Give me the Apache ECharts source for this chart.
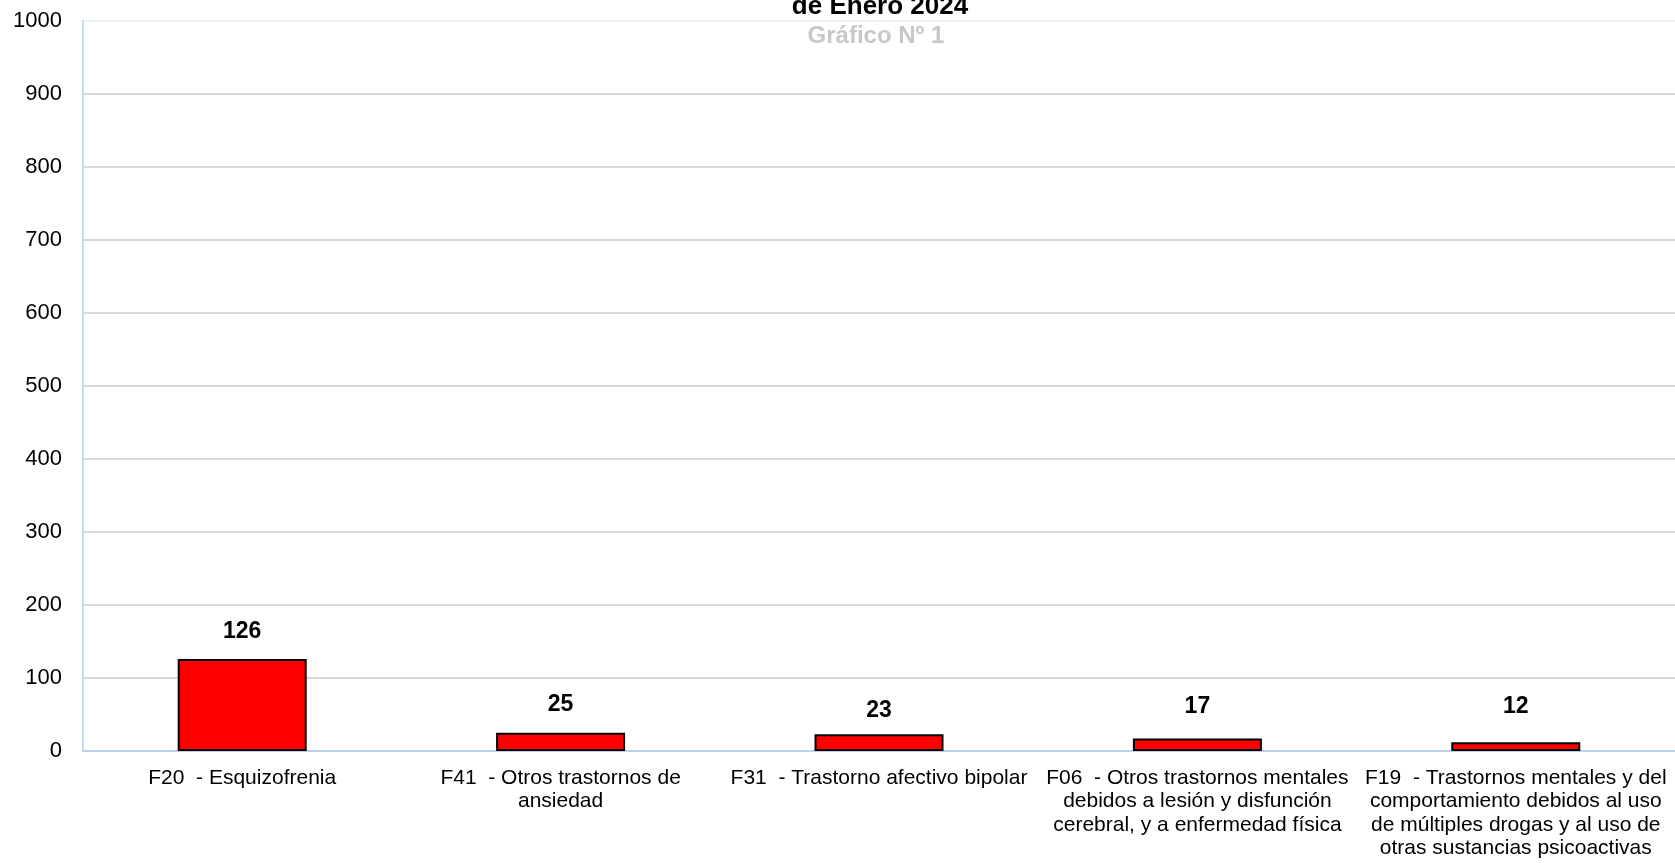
<!DOCTYPE html>
<html>
<head>
<meta charset="utf-8">
<script src="https://cdn.jsdelivr.net/npm/echarts@6/dist/echarts.min.js"></script>
<style>
html,body{margin:0;padding:0;background:#fff;}
#chart{width:1675px;height:863px;}
</style>
</head>
<body>
<div id="chart"></div>
<script>
const categories = [
  "F20  - Esquizofrenia",
  "F41  - Otros trastornos de\nansiedad",
  "F31  - Trastorno afectivo bipolar",
  "F06  - Otros trastornos mentales\ndebidos a lesión y disfunción\ncerebral, y a enfermedad física",
  "F19  - Trastornos mentales y del\ncomportamiento debidos al uso\nde múltiples drogas y al uso de\notras sustancias psicoactivas"
];
const values = [126, 25, 23, 17, 12];
const titleText = "de Enero 2024";
const subtitleText = "Gráfico Nº 1";
const yMin = 0, yMax = 1000, yInterval = 100;

// label placement (style only)
const labelDistances = [16, 17, 12, 20, 24];

const font = "'Liberation Sans', Arial, sans-serif";
const nLines = (yMax - yMin) / yInterval;
const gridColors = [];
for (let i = 0; i <= nLines; i++) {
  gridColors.push(i === nLines ? '#eef3f9' : '#d9d9d9');
}

const seriesData = values.map((v, i) => ({
  value: v,
  label: { distance: labelDistances[i] }
}));

const chart = echarts.init(document.getElementById('chart'));
chart.setOption({
  animation: false,
  backgroundColor: '#ffffff',
  title: [
    { text: titleText, left: 875, top: -11, textAlign: 'center',
      textStyle: { fontFamily: font, fontSize: 26, fontWeight: 'bold', color: '#000' } },
    { text: subtitleText, left: 871, top: 19, textAlign: 'center',
      textStyle: { fontFamily: font, fontSize: 24, fontWeight: 'bold', color: '#c8c8c8' } }
  ],
  grid: { left: 83, right: 0, top: 21, bottom: 112, containLabel: false },
  xAxis: {
    type: 'category',
    data: categories,
    axisLine: { show: true, lineStyle: { color: '#bcd2ea', width: 2 } },
    axisTick: { show: false },
    axisLabel: { interval: 0, margin: 15, fontFamily: font, fontSize: 21, lineHeight: 23.5, color: '#000', align: 'center' }
  },
  yAxis: {
    type: 'value',
    min: yMin, max: yMax, interval: yInterval,
    axisLine: { show: true, lineStyle: { color: '#c9dbef', width: 2 } },
    axisTick: { show: false },
    axisLabel: { margin: 21, fontFamily: font, fontSize: 22, color: '#000', formatter: v => String(v) },
    splitLine: { show: true, lineStyle: { color: gridColors, width: 2 } }
  },
  series: [{
    type: 'bar',
    data: seriesData,
    barWidth: 129,
    itemStyle: { color: '#ff0000', borderColor: '#000000', borderWidth: 2 },
    label: { show: true, position: 'top', fontFamily: font, fontSize: 23, fontWeight: 'bold', color: '#000' }
  }]
});
</script>
</body>
</html>
